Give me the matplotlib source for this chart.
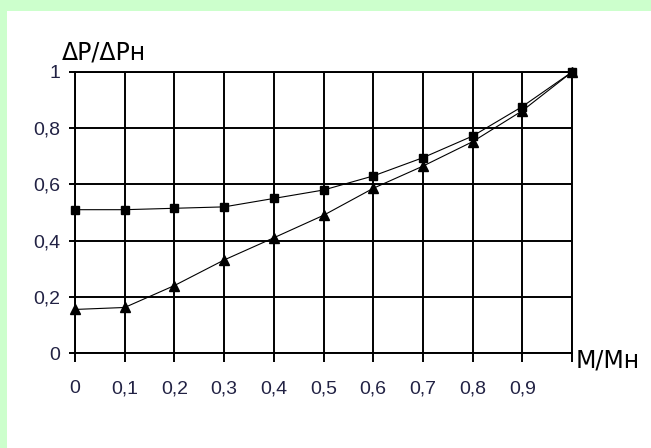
import matplotlib.pyplot as plt
import numpy as np

# load ratio M/Mn and relative losses dP/dPn for two cases
m_ratio = [0.0, 0.1, 0.2, 0.3, 0.4, 0.5, 0.6, 0.7, 0.8, 0.9, 1.0]
loss_upper = [0.51, 0.51, 0.515, 0.52, 0.55, 0.58, 0.63, 0.695, 0.772, 0.877, 1.0]
loss_lower = [0.155, 0.162, 0.24, 0.331, 0.41, 0.49, 0.586, 0.665, 0.752, 0.862, 1.0]

x_ticks = [0.0, 0.1, 0.2, 0.3, 0.4, 0.5, 0.6, 0.7, 0.8, 0.9, 1.0]
x_labels = ['0', '0,1', '0,2', '0,3', '0,4', '0,5', '0,6', '0,7', '0,8', '0,9', '']
y_ticks = [0.0, 0.2, 0.4, 0.6, 0.8, 1.0]
y_labels = ['0', '0,2', '0,4', '0,6', '0,8', '1']

narrow = ['Liberation Sans Narrow', 'Liberation Sans', 'DejaVu Sans']
wide = ['DejaVu Sans']

fig = plt.figure(figsize=(6.51, 4.48), dpi=100, facecolor='#ccffcc')

# white sheet behind the chart
sheet = fig.add_axes([7 / 651, 0, 1, 1 - 11 / 448], zorder=-1)
sheet.set_facecolor('white')
sheet.axis('off')
sheet.add_patch(plt.Rectangle((0, 0), 1, 1, transform=sheet.transAxes,
                              facecolor='white', edgecolor='none'))

ax = fig.add_axes([75 / 651, 95 / 448, 497 / 651, 281 / 448])
ax.set_facecolor('white')

ax.plot(m_ratio, loss_upper, color='black', lw=0.8, marker='s',
        markersize=6.3, clip_on=False, zorder=3)
ax.plot(m_ratio, loss_lower, color='black', lw=0.8, marker='^',
        markersize=6.5, clip_on=False, zorder=3)

ax.set_xlim(0, 1)
ax.set_ylim(0, 1)
ax.set_xticks(x_ticks)
ax.set_xticklabels(x_labels, family=narrow, fontsize=14)
ax.set_yticks(y_ticks)
ax.set_yticklabels(y_labels, family=narrow, fontsize=14)
ax.tick_params(axis='x', length=6.5, width=1.4, pad=13, colors='black',
               labelcolor='#222244')
ax.tick_params(axis='y', length=4.5, width=1.4, pad=6, colors='black',
               labelcolor='#222244')
ax.grid(True, color='black', lw=1.4)
for side in ax.spines.values():
    side.set_linewidth(1.4)
    side.set_color('black')

fig.text(62 / 651, 1 - 60 / 448, 'ΔР/ΔРн', family=wide, fontsize=17,
         ha='left', va='baseline')
fig.text(576 / 651, 1 - 367 / 448, 'М/Мн', family=wide, fontsize=17,
         ha='left', va='baseline')

fig.savefig('out.png', dpi=100, facecolor=fig.get_facecolor())
